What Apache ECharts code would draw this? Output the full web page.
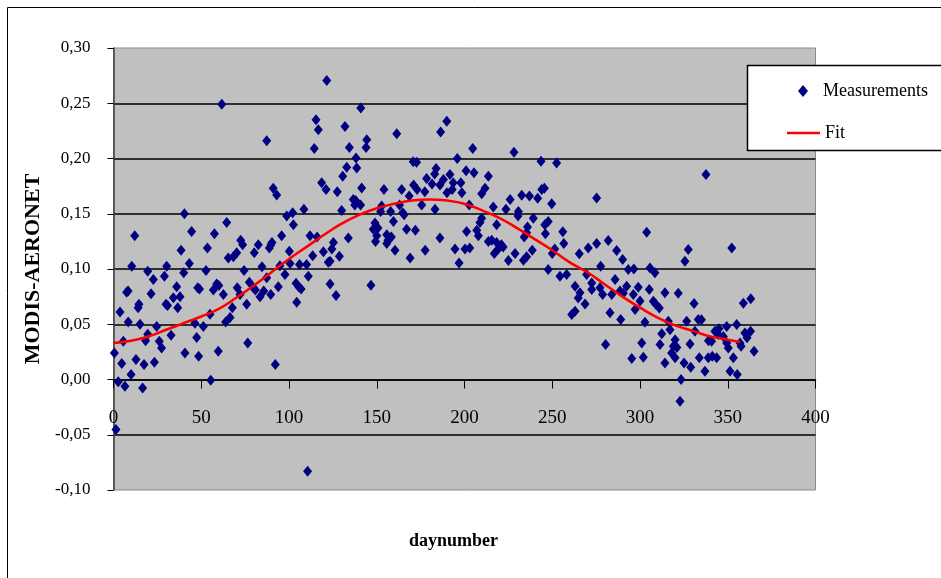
<!DOCTYPE html>
<html>
<head>
<meta charset="utf-8">
<script src="https://cdn.jsdelivr.net/npm/echarts@6/dist/echarts.min.js"></script>
<style>html,body{margin:0;padding:0;background:#fff}#c{width:941px;height:578px}</style>
</head>
<body>
<div id="c"></div>
<script>
// ---- data ----
var xTicks = [0, 50, 100, 150, 200, 250, 300, 350, 400];
var yTicks = [-0.10, -0.05, 0.00, 0.05, 0.10, 0.15, 0.20, 0.25, 0.30];
var seriesNames = ['Measurements', 'Fit'];
var measurements = [
[61.7,0.249],[87.3,0.216],[115.4,0.235],[116.7,0.226],[114.4,0.209],[91,0.173],[93,0.167],[40.4,0.150],[64.5,0.142],[12.1,0.130],
[44.5,0.134],[57.5,0.132],[53.5,0.119],[38.5,0.117],[43.2,0.105],[40,0.0965],[10.4,0.1025],[19.5,0.098],[22.7,0.0905],[30.3,0.1025],
[29,0.0935],[7.5,0.079],[8.3,0.080],[3.7,0.061],[14,0.065],[14.5,0.068],[8.4,0.052],[15.1,0.050],[21.4,0.0775],[24.6,0.048],
[19.5,0.041],[18.3,0.035],[5.6,0.0347],[0.5,0.024],[4.7,0.0145],[2.7,-0.002],[6.5,-0.006],[10,0.0045],[12.8,0.018],[17.4,0.0135],
[16.6,-0.0076],[23.3,0.0157],[26.1,0.0347],[27.4,0.0286],[29.9,0.068],[30.8,0.067],[34.1,0.074],[36,0.084],[36.6,0.065],[37.9,0.075],
[32.8,0.040],[40.7,0.024],[46.4,0.051],[47.4,0.038],[48.5,0.021],[48,0.083],[49,0.082],[51.2,0.048],[52.7,0.0986],[55,0.059],
[55.4,-0.0006],[59.7,0.0256],[56.9,0.081],[58.8,0.0865],[60,0.085],[62.6,0.077],[63.9,0.052],[66.4,0.056],[67.7,0.065],[65.4,0.110],
[68.3,0.111],[70.2,0.1146],[72.5,0.126],[73.6,0.122],[74.4,0.0986],[70.5,0.083],[72.1,0.077],[75.9,0.068],[76.5,0.033],[77.4,0.088],
[79.7,0.083],[80.2,0.1146],[82.5,0.122],[80.8,0.081],[83.5,0.075],[84.6,0.102],[85.6,0.080],[87.3,0.092],[88.8,0.119],[89.7,0.122],
[90.3,0.124],[89.6,0.077],[92.2,0.0136],[93.9,0.084],[94.8,0.103],[95.8,0.130],[97.7,0.095],[98.7,0.148],[100.2,0.116],[102.1,0.151],
[102.5,0.140],[100.6,0.105],[104,0.087],[104.4,0.070],[105.5,0.084],[106.9,0.082],[106,0.104],[108.5,0.154],[110,0.104],[111,0.0935],
[112,0.130],[113.5,0.112],[110.6,-0.083],[1.4,-0.0453],[116,0.129],
[121.5,0.2706],[140.9,0.2458],[131.9,0.229],[134.4,0.210],[144.3,0.217],[143.9,0.210],[161.4,0.2223],[138.2,0.2005],[132.9,0.192],[138.6,0.1915],
[130.6,0.184],[170.8,0.197],[172.7,0.1965],[118.6,0.178],[121.1,0.172],[127.5,0.170],[141.4,0.1734],[154.1,0.172],[164.2,0.172],[171,0.176],
[173,0.172],[168.5,0.166],[136.6,0.163],[138,0.162],[137.5,0.158],[140.8,0.158],[130,0.153],[152.8,0.157],[152.2,0.152],[157.9,0.152],
[163,0.158],[164.8,0.151],[165.6,0.149],[159.5,0.143],[149,0.1417],[148,0.136],[150.7,0.137],[150,0.130],[149.3,0.125],[155.7,0.131],
[156.4,0.126],[158.3,0.129],[155.7,0.123],[160.4,0.117],[167,0.136],[172,0.135],[169,0.110],[133.8,0.128],[119.6,0.1155],[123.4,0.107],
[128.7,0.1116],[125.3,0.124],[124.4,0.118],[122.4,0.106],[123.4,0.0865],[126.8,0.076],[146.7,0.0853],
[189.9,0.2338],[186.4,0.224],[204.7,0.209],[228.2,0.2057],[195.9,0.200],[243.6,0.1976],[252.5,0.196],[183.8,0.191],[183,0.186],[178.4,0.182],
[181.5,0.177],[191.7,0.1855],[188,0.181],[200.9,0.189],[205.4,0.187],[213.6,0.184],[186,0.176],[193.6,0.178],[193,0.172],[190,0.169],
[197.9,0.178],[198.5,0.169],[211.7,0.173],[209.8,0.168],[202.7,0.158],[175.6,0.158],[177.4,0.170],[183.2,0.154],[226,0.163],[232.6,0.1668],
[237,0.166],[241.7,0.164],[244,0.172],[245.5,0.173],[249.7,0.159],[216.4,0.156],[223.6,0.154],[230.7,0.152],[230.5,0.148],[209.8,0.146],
[208.8,0.142],[218.3,0.140],[239.2,0.146],[247.7,0.143],[245.8,0.140],[201.2,0.134],[207,0.135],[207.9,0.130],[235.9,0.138],[235.4,0.1328],
[234,0.129],[246.1,0.132],[256,0.1336],[186,0.128],[213.6,0.125],[215.5,0.126],[218.3,0.124],[221,0.122],[219.2,0.118],[222,0.120],
[217,0.114],[194.6,0.118],[200.3,0.118],[203,0.119],[177.6,0.117],[196.9,0.1055],[225,0.1076],[228.8,0.114],[233.6,0.108],[235.4,0.111],
[238.6,0.117],[251.4,0.118],[250,0.114],[256.6,0.123],[265.4,0.1137],[270.5,0.119],[275.3,0.123],[275.3,0.1643],[247.7,0.0995],
[254.4,0.0935],[258.2,0.095],[263,0.0844],[265.8,0.0784],[264.8,0.0738],[261.1,0.0588],[263,0.0618],[269.6,0.095],[272.5,0.0874],[277.2,0.083],
[337.6,0.1855],[303.8,0.1333],[281.9,0.1258],[286.7,0.1167],[290.1,0.1086],[277.6,0.1025],[293.3,0.0995],[296.5,0.100],[305.7,0.101],[308.5,0.0965],
[327.5,0.1176],[325.6,0.107],[352.3,0.119],
[272.5,0.0814],[268.7,0.0684],[278.7,0.077],[283.9,0.077],[285.8,0.0905],[288.6,0.080],[292.4,0.0844],[296.2,0.077],[299,0.0835],[297.2,0.0633],
[282.9,0.0603],[289,0.0543],[302.8,0.0519],[305.3,0.0814],[307.6,0.0709],[311,0.0648],[314.2,0.0784],[321.8,0.078],[330.8,0.0688],[316.1,0.0528],
[312.4,0.0413],[311.4,0.0317],[301,0.0331],[295.3,0.019],[301.9,0.0202],[280.4,0.0317],[314.2,0.015],[320,0.036],[318,0.024],[326.6,0.0528],
[331.3,0.0437],[333.2,0.0543],[328.5,0.0322],[325.1,0.015],[328.9,0.011],[323.4,0.0],[322.8,-0.0196],[333.8,0.0196],[337,0.0075],[338.9,0.0196],
[340.8,0.0347],[342.7,0.0437],[343.7,0.0196],[349.4,0.048],[347.5,0.039],[349.4,0.033],[353.2,0.0196],[351.3,0.0075],[355.4,0.0045],[355.1,0.0497],
[357,0.033],[358.9,0.069],[363.1,0.073],[359.8,0.042],[365,0.0256],[290.5,0.078],[300,0.071],[309,0.068],[317.1,0.045],[319,0.030],
[321,0.029],[320,0.0196],[335,0.054],[341.2,0.021],[344.6,0.041],[350.3,0.0286],[361,0.0377],[363,0.0437],[345,0.046],[339,0.035],
[357.6,0.030]
];
var fitDay = [0,10,20,30,40,50,60,70,80,90,100,110,120,130,140,150,160,170,180,190,200,210,220,230,240,250,260,270,280,290,300,310,320,330,340,350,357];
var fitVal = [0.033,0.035,0.039,0.045,0.051,0.057,0.064,0.074,0.085,0.097,0.109,0.120,0.131,0.141,0.149,0.155,0.159,0.162,0.163,0.162,0.159,0.153,0.146,0.137,0.127,0.117,0.106,0.097,0.086,0.075,0.065,0.056,0.049,0.044,0.039,0.036,0.034];

var fitData = fitDay.map(function (d, i) { return [d, fitVal[i]]; });
var serif = 'Liberation Serif, Times New Roman, serif';

var chart = echarts.init(document.getElementById('c'), null, {renderer: 'canvas'});
chart.setOption({
  backgroundColor: '#ffffff',
  animation: false,
  grid: {
    left: 113.5, right: 125.5, top: 48, bottom: 88,
    outerBoundsMode: 'none', containLabel: false,
    show: true, backgroundColor: '#c0c0c0', borderColor: '#8a8a8a', borderWidth: 1
  },
  xAxis: {
    type: 'value', min: xTicks[0], max: xTicks[xTicks.length - 1], interval: 50,
    offset: -110.5,
    name: 'daynumber', nameLocation: 'middle', nameGap: 153,
    nameTextStyle: {fontFamily: serif, fontWeight: 'bold', fontSize: 18, color: '#000', padding: [0, 22, 0, 0]},
    axisLine: {onZero: false, lineStyle: {color: '#000', width: 1.5}},
    axisTick: {show: true, inside: false, length: 9, lineStyle: {color: '#000', width: 1}},
    axisLabel: {margin: 29, fontFamily: serif, fontSize: 19, color: '#000'},
    splitLine: {show: false}
  },
  yAxis: {
    type: 'value', min: yTicks[0], max: yTicks[yTicks.length - 1], interval: 0.05,
    name: 'MODIS-AERONET', nameLocation: 'middle', nameRotate: 90, nameGap: 60,
    nameTextStyle: {fontFamily: serif, fontWeight: 'bold', fontSize: 22, color: '#000'},
    axisLine: {onZero: false, lineStyle: {color: '#404040', width: 1.5}},
    axisTick: {show: true, inside: false, length: 6, lineStyle: {color: '#000'}},
    axisLabel: {margin: 23, fontFamily: serif, fontSize: 17, color: '#000',
      formatter: function (v) { return v.toFixed(2).replace('.', ','); }},
    splitLine: {show: true, showMinLine: false, showMaxLine: false, lineStyle: {color: '#000', width: 1.5}}
  },
  legend: [
    {
      data: [{name: seriesNames[0], icon: 'diamond'}],
      left: 793, top: 77, itemWidth: 10, itemHeight: 12, z: 60,
      textStyle: {fontFamily: serif, fontSize: 18, color: '#000', padding: [0, 0, 0, 10]}
    },
    {
      data: [{name: seriesNames[1], icon: 'rect', itemStyle: {color: '#ff0000'}}],
      left: 782, top: 119, itemWidth: 33, itemHeight: 2.5, z: 60,
      textStyle: {fontFamily: serif, fontSize: 18, color: '#000'}
    }
  ],
  graphic: [
    {type: 'rect', z: 50, shape: {x: 747.5, y: 65.5, width: 200, height: 85},
      style: {fill: '#ffffff', stroke: '#000', lineWidth: 1.5}},
    {type: 'rect', z: 0, silent: true, shape: {x: 7.5, y: 7.5, width: 940, height: 575},
      style: {fill: 'none', stroke: '#000', lineWidth: 1}}
  ],
  series: [
    {
      name: seriesNames[0], type: 'scatter', data: measurements,
      symbol: 'diamond', symbolSize: [9, 11],
      itemStyle: {color: '#000080', opacity: 1}, z: 3
    },
    {
      name: seriesNames[1], type: 'line', data: fitData, smooth: true,
      symbol: 'none', lineStyle: {color: '#ff0000', width: 2.5},
      itemStyle: {color: '#ff0000'}, z: 4
    }
  ]
});
</script>
</body>
</html>
